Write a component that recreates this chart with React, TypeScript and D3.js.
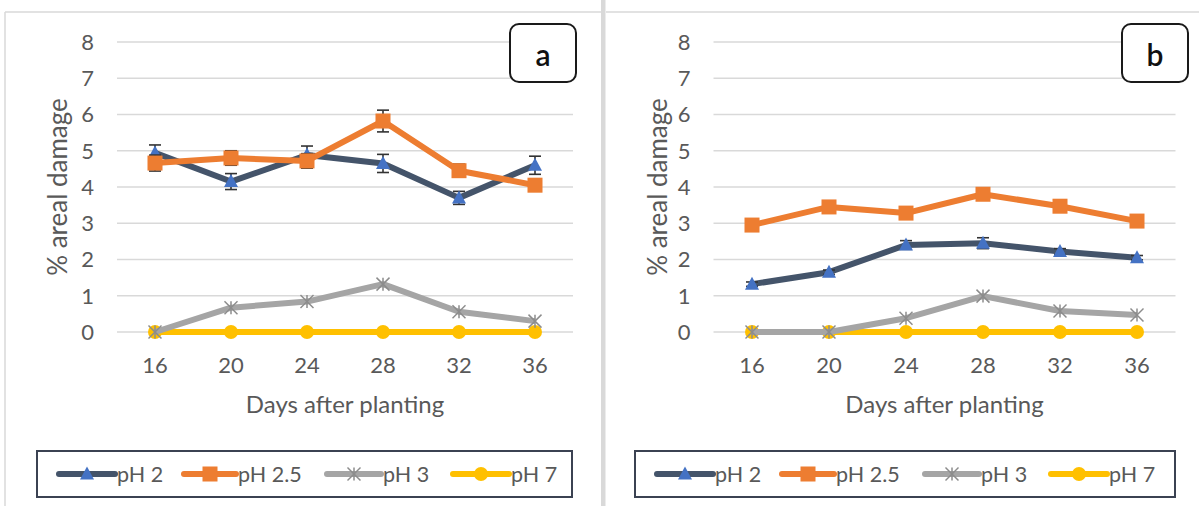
import React from "react";
import * as d3 from "d3";

// Days after planting (category axis)
const days = ["16", "20", "24", "28", "32", "36"];
const yTicks = [0, 1, 2, 3, 4, 5, 6, 7, 8];

// Panel a: mean % areal damage and error half-widths per pH treatment
const aPH2 = [4.94, 4.15, 4.88, 4.65, 3.7, 4.6];
const aPH2Err = [0.22, 0.22, 0.25, 0.25, 0.18, 0.25];
const aPH25 = [4.66, 4.8, 4.72, 5.82, 4.45, 4.05];
const aPH25Err = [0.22, 0.2, 0.2, 0.3, 0.18, 0.12];
const aPH3 = [0, 0.67, 0.84, 1.32, 0.56, 0.3];
const aPH7 = [0, 0, 0, 0, 0, 0];

// Panel b
const bPH2 = [1.32, 1.65, 2.4, 2.45, 2.22, 2.05];
const bPH2Err = [0.06, 0.06, 0.12, 0.15, 0.08, 0.06];
const bPH25 = [2.95, 3.45, 3.28, 3.8, 3.47, 3.06];
const bPH25Err = [0.06, 0.06, 0.06, 0.12, 0.06, 0.06];
const bPH3 = [0, 0, 0.38, 0.99, 0.58, 0.47];
const bPH7 = [0, 0, 0, 0, 0, 0];

const seriesNames = ["pH 2", "pH 2.5", "pH 3", "pH 7"];
const lineColors = ["#44546A", "#ED7D31", "#A5A5A5", "#FFC000"];
const markerColors = ["#4472C4", "#ED7D31", "#A5A5A5", "#FFC000"];
const markerKinds = ["triangle", "square", "star", "circle"];

const FONT = "Lato, 'Liberation Sans', sans-serif";
const TEXT = "#595959";

function Marker({ kind, x, y, color }: { kind: string; x: number; y: number; color: string }) {
  if (kind === "triangle") {
    const p = d3.path();
    p.moveTo(x, y - 7.5);
    p.lineTo(x + 7, y + 5.5);
    p.lineTo(x - 7, y + 5.5);
    p.closePath();
    return <path d={p.toString()} fill={color} />;
  }
  if (kind === "square") {
    return <rect x={x - 7.5} y={y - 7.5} width={15} height={15} fill={color} />;
  }
  if (kind === "circle") {
    return <circle cx={x} cy={y} r={7} fill={color} />;
  }
  // star: asterisk of crossing strokes
  const r = 6.5;
  return (
    <g stroke="#8c8c8c" strokeWidth={1.5}>
      <line x1={x - r} y1={y - r} x2={x + r} y2={y + r} />
      <line x1={x - r} y1={y + r} x2={x + r} y2={y - r} />
      <line x1={x} y1={y - r} x2={x} y2={y + r} />
    </g>
  );
}

type PanelProps = {
  left: number;
  x0: number;
  x1: number;
  label: string;
  values: number[][];
  errs: (number[] | null)[];
  legendX: number;
  legendW: number;
  labelBoxX: number;
};

function Panel({ left, x0, x1, label, values, errs, legendX, legendW, labelBoxX }: PanelProps) {
  const x = d3.scaleBand<string>().domain(days).range([x0, x1]);
  const y = d3.scaleLinear().domain([0, 8]).range([332, 42]);
  const cx = (d: string) => (x(d) as number) + x.bandwidth() / 2;
  const line = d3
    .line<number>()
    .x((_, i) => cx(days[i]))
    .y((v) => y(v));
  const drawOrder = [3, 2, 0, 1];
  const legendOffsets = [22, 147, 290, 416];
  const legendLineW = [56, 52, 54, 56];
  const midX = (x0 + x1) / 2;

  return (
    <g>
      {/* gridlines */}
      {yTicks.map((t) => (
        <line key={t} x1={x0} x2={x1} y1={y(t)} y2={y(t)} stroke="#d9d9d9" strokeWidth={1.5} />
      ))}
      {/* y tick labels */}
      {yTicks.map((t) => (
        <text key={"yl" + t} x={x0 - 23} y={y(t)} dy="0.36em" textAnchor="end" fontSize={22} fill={TEXT} fontFamily={FONT}>
          {t}
        </text>
      ))}
      {/* x tick labels */}
      {days.map((d) => (
        <text key={"xl" + d} x={cx(d)} y={373} textAnchor="middle" fontSize={22} fill={TEXT} fontFamily={FONT}>
          {d}
        </text>
      ))}
      <text x={midX} y={413} textAnchor="middle" fontSize={24} fill={TEXT} fontFamily={FONT}>
        Days after planting
      </text>
      <text
        transform={`translate(${left + 53},187) rotate(-90)`}
        textAnchor="middle"
        dy="0.35em"
        fontSize={26}
        fill={TEXT}
        fontFamily={FONT}
      >
        % areal damage
      </text>

      {/* series */}
      {drawOrder.map((s) => (
        <g key={"s" + s}>
          <path d={line(values[s]) || ""} fill="none" stroke={lineColors[s]} strokeWidth={6} strokeLinejoin="round" />
          {errs[s] &&
            values[s].map((v, i) => {
              const e = (errs[s] as number[])[i];
              const px = cx(days[i]);
              return (
                <g key={"e" + i} stroke="#333" strokeWidth={1.6}>
                  <line x1={px} x2={px} y1={y(v + e)} y2={y(v - e)} />
                  <line x1={px - 6} x2={px + 6} y1={y(v + e)} y2={y(v + e)} />
                  <line x1={px - 6} x2={px + 6} y1={y(v - e)} y2={y(v - e)} />
                </g>
              );
            })}
          {values[s].map((v, i) => (
            <Marker key={"m" + i} kind={markerKinds[s]} x={cx(days[i])} y={y(v)} color={markerColors[s]} />
          ))}
        </g>
      ))}

      {/* panel label */}
      <rect x={labelBoxX} y={24} width={66} height={58} rx={9} fill="#fff" stroke="#1a1a1a" strokeWidth={2} />
      <text x={labelBoxX + 33} y={66} textAnchor="middle" fontSize={30} fontWeight={600} fill="#111" fontFamily={FONT}>
        {label}
      </text>

      {/* legend */}
      <rect x={legendX} y={451} width={legendW} height={46} fill="#fff" stroke="#3b4252" strokeWidth={2} />
      {seriesNames.map((n, s) => {
        const lx = legendX + legendOffsets[s];
        const lw = legendLineW[s];
        return (
          <g key={"lg" + s}>
            <line x1={lx} x2={lx + lw} y1={474} y2={474} stroke={lineColors[s]} strokeWidth={6} strokeLinecap="round" />
            <Marker kind={markerKinds[s]} x={lx + lw / 2} y={474} color={markerColors[s]} />
            <text x={lx + lw + 2} y={474} dy="0.36em" fontSize={21.5} fill={TEXT} fontFamily={FONT}>
              {n}
            </text>
          </g>
        );
      })}
    </g>
  );
}

export default function App() {
  return (
    <svg
      width={1199}
      height={506}
      style={{ position: "absolute", left: 0, top: 0, background: "#fff" }}
    >
      <rect x={0} y={0} width={1199} height={506} fill="#fff" />
      {/* panel frames */}
      <line x1={5} x2={601} y1={12} y2={12} stroke="#d9d9d9" strokeWidth={1.5} />
      <line x1={5} x2={5} y1={12} y2={506} stroke="#d9d9d9" strokeWidth={1.5} />
      <line x1={606} x2={1199} y1={12} y2={12} stroke="#d9d9d9" strokeWidth={1.5} />
      <rect x={601} y={0} width={4.5} height={506} fill="#d9d9d9" />
      <Panel
        left={5}
        x0={117}
        x1={573}
        label="a"
        values={[aPH2, aPH25, aPH3, aPH7]}
        errs={[aPH2Err, aPH25Err, null, null]}
        legendX={37}
        legendW={535}
        labelBoxX={510}
      />
      <Panel
        left={605}
        x0={713.5}
        x1={1175.5}
        label="b"
        values={[bPH2, bPH25, bPH3, bPH7]}
        errs={[bPH2Err, bPH25Err, null, null]}
        legendX={635}
        legendW={540}
        labelBoxX={1122}
      />
    </svg>
  );
}
